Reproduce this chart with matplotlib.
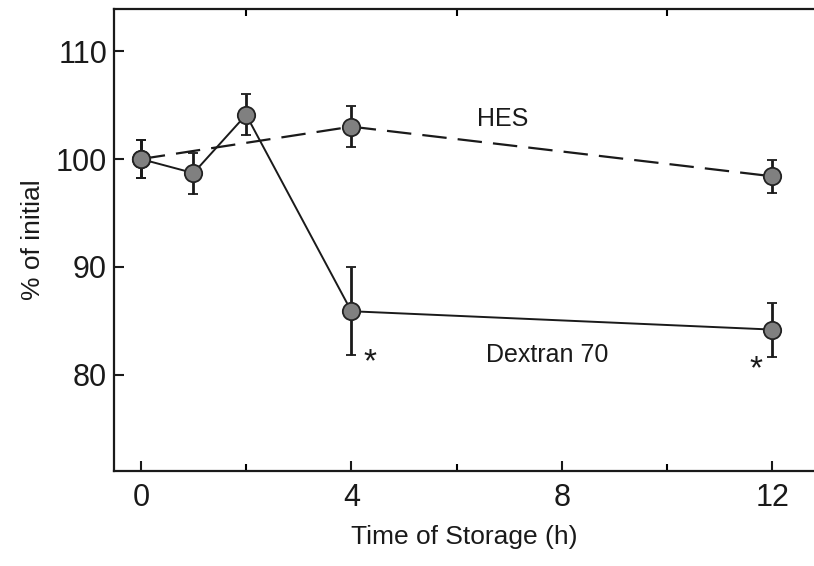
import matplotlib
matplotlib.use("Agg")
import matplotlib.pyplot as plt
from matplotlib.ticker import FixedLocator

plt.rcParams['font.family'] = ['Liberation Sans', 'DejaVu Sans']

# Data
dex_t = [0, 1, 2, 4, 12]
dex_v = [100.0, 98.7, 104.1, 85.9, 84.2]
dex_e = [1.8, 1.9, 1.9, 4.1, 2.5]

hes_t = [0, 4, 12]
hes_v = [100.0, 103.0, 98.4]
hes_e = [1.8, 1.9, 1.5]

xticks = [0, 4, 8, 12]
xminor = [2, 6, 10]
yticks = [80, 90, 100, 110]

fig = plt.figure(figsize=(8.14, 5.66), dpi=100)
W, H = 814, 566
ax = fig.add_axes([114 / W, 1 - 471 / H, (814 - 114) / W, (471 - 9) / H])

line_col = '#1a1a1a'
face = '#808080'

ax.errorbar(hes_t, hes_v, yerr=hes_e, color=line_col, lw=1.6, ls=(0, (11, 5)),
            marker='o', ms=12.5, mfc=face, mec='#222222', mew=1.3,
            ecolor=line_col, elinewidth=2.0, capsize=3.5, capthick=2.0, zorder=3)
ax.errorbar(dex_t, dex_v, yerr=dex_e, color=line_col, lw=1.4, ls='-',
            marker='o', ms=12.5, mfc=face, mec='#222222', mew=1.3,
            ecolor=line_col, elinewidth=2.0, capsize=3.5, capthick=2.0, zorder=4)

ax.set_xlim(-0.51, 12.79)
ax.set_ylim(71.1, 113.9)

ax.xaxis.set_major_locator(FixedLocator(xticks))
ax.xaxis.set_minor_locator(FixedLocator(xminor))
ax.yaxis.set_major_locator(FixedLocator(yticks))
ax.set_xticklabels([str(t) for t in xticks])
ax.set_yticklabels([str(t) for t in yticks])

ax.tick_params(axis='both', which='major', direction='in', length=7, width=1.5,
               labelsize=22, colors='#1a1a1a', pad=9)
ax.tick_params(axis='y', which='major', pad=5)
ax.tick_params(axis='x', which='minor', direction='in', length=5, width=1.5,
               top=True, bottom=True)
ax.tick_params(axis='x', which='major', top=False)
ax.tick_params(axis='y', which='both', right=False)

for s in ['left', 'bottom', 'top']:
    ax.spines[s].set_linewidth(1.6)
    ax.spines[s].set_color('#1a1a1a')
ax.spines['right'].set_visible(False)

ax.set_xlabel('Time of Storage (h)', fontsize=19, color='#1a1a1a', labelpad=8)
ax.set_ylabel('% of initial', fontsize=19, color='#1a1a1a', labelpad=8)

ax.text(6.88, 103.7, 'HES', fontsize=18, ha='center', va='center', color='#1a1a1a')
ax.text(7.72, 81.85, 'Dextran 70', fontsize=18, ha='center', va='center', color='#1a1a1a')
ax.text(4.35, 81.1, '*', fontsize=24, ha='center', va='center', color='#1a1a1a')
ax.text(11.69, 80.5, '*', fontsize=24, ha='center', va='center', color='#1a1a1a')

fig.savefig('out.png', dpi=100)
